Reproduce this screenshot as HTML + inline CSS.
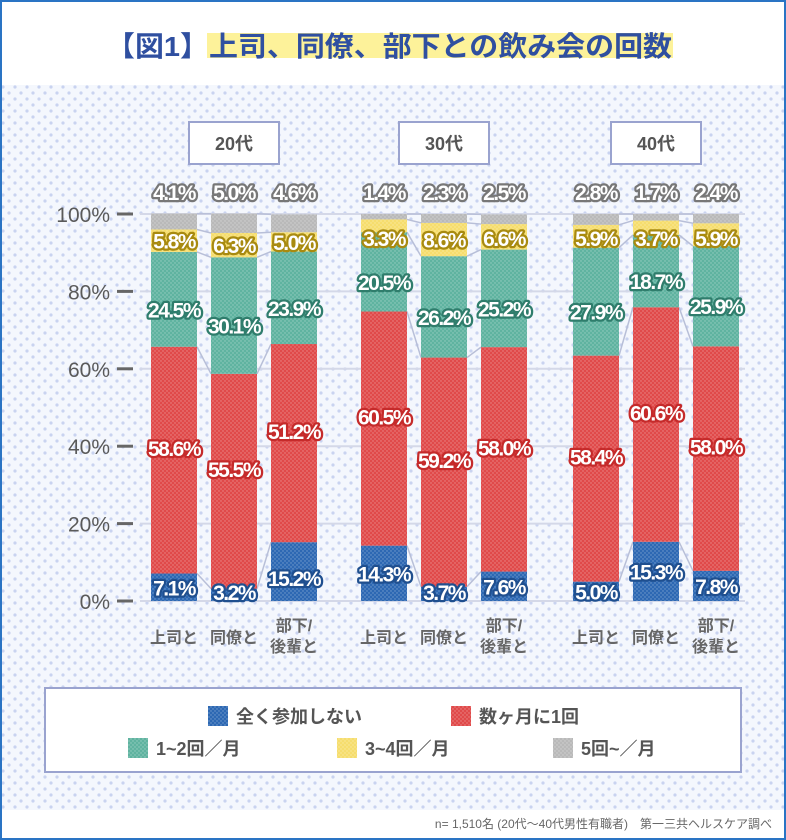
<!DOCTYPE html>
<html><head><meta charset="utf-8">
<style>
body{margin:0;background:#fff;}
#wrap{position:relative;width:782px;height:836px;border:2px solid #2a74c4;overflow:hidden;font-family:"Liberation Sans","Noto Sans CJK JP",sans-serif;}
svg text{font-family:"Liberation Sans","Noto Sans CJK JP",sans-serif;}
</style></head><body>
<div id="wrap">
<svg id="chart" width="782" height="836" viewBox="2 2 782 836" xmlns="http://www.w3.org/2000/svg">
<defs>
<pattern id="bgdots" width="12" height="12" patternUnits="userSpaceOnUse">
<rect width="12" height="12" fill="#f4f7fd"/><circle cx="3" cy="3" r="1.6" fill="#c9d3f0"/><circle cx="9" cy="9" r="1.6" fill="#c9d3f0"/></pattern>
<pattern id="bardots" width="4" height="4" patternUnits="userSpaceOnUse">
<circle cx="1" cy="1" r="0.7" fill="#ffffff" fill-opacity="0.35"/><circle cx="3" cy="3" r="0.7" fill="#ffffff" fill-opacity="0.35"/></pattern>
</defs>
<rect x="0" y="85" width="786" height="725" fill="url(#bgdots)"/>
<rect x="207" y="33" width="466" height="25" fill="#fdf29a"/>
<text x="106" y="56" font-size="28" font-weight="bold" fill="#2f4fa0" textLength="566" lengthAdjust="spacingAndGlyphs">【図1】上司、同僚、部下との飲み会の回数</text>
<g id="grid"></g>
<g id="links"></g>
<g id="bars"></g>
<g id="labels"></g>
<rect x="45" y="688" width="696" height="84" fill="#fff" stroke="#9aa3cf" stroke-width="2"/>
<g id="legend"></g>
<text x="772" y="828" text-anchor="end" font-size="12" fill="#666">n= 1,510名 (20代～40代男性有職者)　第一三共ヘルスケア調べ</text>
</svg>
</div>
<script>
const groups = ["20代","30代","40代"];
const categories = ["上司と","同僚と","部下/後輩と"];
const seriesNames = ["全く参加しない","数ヶ月に1回","1~2回／月","3~4回／月","5回~／月"];
const none = [7.1,3.2,15.2, 14.3,3.7,7.6, 5.0,15.3,7.8];
const fewMonths = [58.6,55.5,51.2, 60.5,59.2,58.0, 58.4,60.6,58.0];
const oneTwo = [24.5,30.1,23.9, 20.5,26.2,25.2, 27.9,18.7,25.9];
const threeFour = [5.8,6.3,5.0, 3.3,8.6,6.6, 5.9,3.7,5.9];
const fivePlus = [4.1,5.0,4.6, 1.4,2.3,2.5, 2.8,1.7,2.4];
const yTicks = [0,20,40,60,80,100];

const colors=["#2d68b3","#e04a4a","#5fb3a0","#f6dd6d","#b9b9b9"];
const strokeCols=["#1f4f8f","#c52a2a","#2f7d6c","#a88a10","#777"];
const series=[none,fewMonths,oneTwo,threeFour,fivePlus];
const NS="http://www.w3.org/2000/svg";
const y0=601,y100=214;
const yScale=v=>y0-(y0-y100)*v/100;
const barW=46;
const groupX=[151,361,573];
const xOf=i=>groupX[Math.floor(i/3)]+(i%3)*60;
function mk(tag,attrs,parent){const e=document.createElementNS(NS,tag);for(const k in attrs)e.setAttribute(k,attrs[k]);parent.appendChild(e);return e;}
const grid=document.getElementById('grid'),bars=document.getElementById('bars'),labels=document.getElementById('labels'),links=document.getElementById('links'),legend=document.getElementById('legend');
yTicks.forEach(t=>{
  const y=yScale(t);
  const l=mk('line',{x1:140,x2:745,y1:y,y2:y,stroke:'#d4d8e8','stroke-width':2},grid);
  
  
  const tk=mk('line',{x1:117,x2:133,y1:y,y2:y,stroke:'#666','stroke-width':3},grid);
  
  
  const tx=mk('text',{x:110,y:y+8,'text-anchor':'end','font-size':21,fill:'#5a5a5a'},grid);
  tx.textContent=t+'%';
  
  
});
groups.forEach((g,gi)=>{
  const mid=groupX[gi]+60+barW/2;
  const r=mk('rect',{x:mid-45,y:122,width:90,height:42,fill:'#fff',stroke:'#9aa3cf','stroke-width':2},grid);
  
  
  const t=mk('text',{x:mid,y:150,'text-anchor':'middle','font-size':18,'font-weight':'bold',fill:'#555'},grid);
  t.textContent=g;
  
  
  categories.forEach((c,ci)=>{
    const x=groupX[gi]+ci*60+barW/2;
    const parts=c.split('/');
    parts.forEach((p,pi)=>{
      const yy=parts.length>1?631+pi*21:643;
      const ct=mk('text',{x:x,y:yy,'text-anchor':'middle','font-size':16,'font-weight':'bold',fill:'#666'},grid);
      ct.textContent=p+(parts.length>1&&pi==0?'/':'');
      
      
    });
  });
});
for(let i=0;i<9;i++){
  let cum=0;const x=xOf(i);
  series.forEach((s,si)=>{
    const v=s[i];const ya=yScale(cum),yb=yScale(cum+v);
    const r=mk('rect',{x:x,y:yb,width:barW,height:ya-yb,fill:colors[si]},bars);
    
    
    mk('rect',{x:x,y:yb,width:barW,height:ya-yb,fill:'url(#bardots)'},bars);
    if(i%3<2){
      const nx=xOf(i+1);let c2=0;for(let k=0;k<=si;k++)c2+=series[k][i+1];
      const ln=mk('line',{x1:x+barW,y1:yb,x2:nx,y2:yScale(c2),stroke:'#b8bfd8','stroke-width':1.5},links);
      
      
    }
    let ly=(ya+yb)/2+8;
    if(si==0) ly=Math.min(Math.max(ly,586),600);
    if(si==0&&v>12&&i%3<2) ly=(ya+yb)/2+8;
    if(si==1) ly-=12;
    if(si==2) ly+=10;
    if(si==4) ly=200;
    if(si==3) ly=Math.max(ly,246);
    const t=mk('text',{x:x+barW/2,y:ly,'text-anchor':'middle','font-size':21,'font-weight':'bold',fill:'#fff',stroke:strokeCols[si],'stroke-width':4.5,'paint-order':'stroke','stroke-linejoin':'round',style:'letter-spacing:-1.5px'},labels);
    t.textContent=v.toFixed(1)+'%';
    
    
    cum+=v;
  });
}
const legPos=[[208,716],[451,716],[128,748],[337,748],[553,748]];
seriesNames.forEach((n,i)=>{
  const [lx,ly]=legPos[i];
  const r=mk('rect',{x:lx,y:ly-10,width:20,height:20,fill:colors[i]},legend);
  
  
  mk('rect',{x:lx,y:ly-10,width:20,height:20,fill:'url(#bardots)'},legend);
  const t=mk('text',{x:lx+28,y:ly+7,'font-size':18,'font-weight':'bold',fill:'#555'},legend);
  t.textContent=n;
  
  
});
</script>
</body></html>
